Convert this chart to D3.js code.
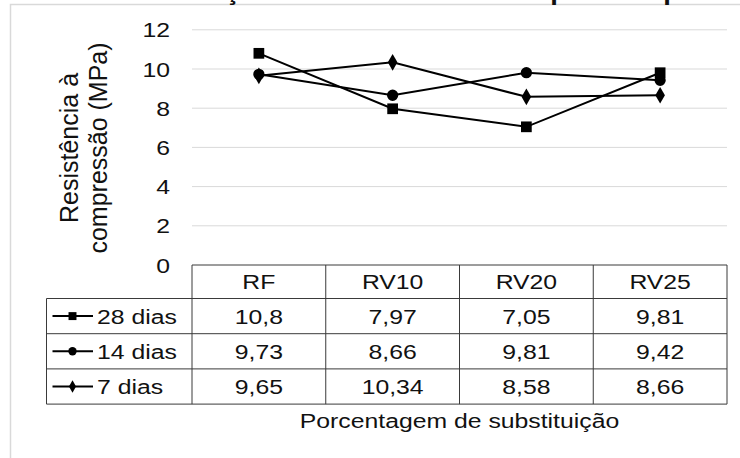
<!DOCTYPE html>
<html>
<head>
<meta charset="utf-8">
<script src="https://cdn.jsdelivr.net/npm/d3@7"></script>
<style>
  body { margin: 0; background: #fff; }
  text { font-family: "Liberation Sans", Arial, sans-serif; fill: #111; }
</style>
</head>
<body>
<svg id="chart" width="740" height="458"></svg>
<script>
// data
var categories = ["RF", "RV10", "RV20", "RV25"];
var seriesNames = ["28 dias", "14 dias", "7 dias"];
var dias28 = [10.8, 7.97, 7.05, 9.81];
var dias14 = [9.73, 8.66, 9.81, 9.42];
var dias7 = [9.65, 10.34, 8.58, 8.66];
var yTicks = [0, 2, 4, 6, 8, 10, 12];
var markers = ["square", "circle", "diamond"];

var seriesValues = [dias28, dias14, dias7];

var svg = d3.select("#chart");
var sx = 1.18; // text in the picture is a bit wider than tall

//chart frame
svg.append("rect")
    .attr("x", 10.5).attr("y", 4.5)
    .attr("width", 800).attr("height", 500)
    .attr("fill", "none")
    .attr("stroke", "#d9d9d9")
    .attr("stroke-width", 1.5);

//title, mostly above the visible area
svg.append("text")
    .attr("transform", "translate(150,0) scale(" + sx + ",1)")
    .attr("font-size", 23.3)
    .attr("font-weight", "bold")
    .text("Evolução da resistência à compressão por idade");

var x = d3.scaleBand().domain(categories).range([192, 727]);
var y = d3.scaleLinear().domain([0, 12]).range([265, 29.8]);

//gridlines
svg.append("g").selectAll("line")
    .data(yTicks.filter(function(d){ return d > 0; }))
    .enter().append("line")
    .attr("x1", 192).attr("x2", 727)
    .attr("y1", function(d){ return y(d); })
    .attr("y2", function(d){ return y(d); })
    .attr("stroke", "#d9d9d9")
    .attr("stroke-width", 1);

//y tick labels
svg.append("g").selectAll("text")
    .data(yTicks)
    .enter().append("text")
    .attr("transform", function(d){ return "translate(170," + y(d) + ") scale(" + sx + ",1)"; })
    .attr("text-anchor", "end")
    .attr("dy", "0.36em")
    .attr("font-size", 21)
    .text(function(d){ return d; });

//y title
var yt = svg.append("text")
    .attr("transform", "translate(78,148) rotate(-90)")
    .attr("text-anchor", "middle")
    .attr("font-size", 25);
yt.append("tspan").attr("x", 0).attr("y", 0).text("Resistência  à");
yt.append("tspan").attr("x", 0).attr("y", 29).text("compressão (MPa)");

//marker shapes
function symbolFor(m, size){
    var type = m == "square" ? d3.symbolSquare : (m == "circle" ? d3.symbolCircle : d3.symbolDiamond);
    return d3.symbol().type(type).size(size)();
}
var markSize = {"square": 115, "circle": 100, "diamond": 80};

//lines
var line = d3.line()
    .x(function(d, i){ return x(categories[i]) + x.bandwidth() / 2; })
    .y(function(d){ return y(d); });

seriesValues.forEach(function(vals, s){
    svg.append("path")
        .datum(vals)
        .attr("d", line)
        .attr("fill", "none")
        .attr("stroke", "#000")
        .attr("stroke-width", 2);
    svg.append("g").selectAll("path")
        .data(vals)
        .enter().append("path")
        .attr("transform", function(d, i){ return "translate(" + (x(categories[i]) + x.bandwidth() / 2) + "," + y(d) + ")"; })
        .attr("d", symbolFor(markers[s], markSize[markers[s]]))
        .attr("fill", "#000");
});

//data table
var headTop = 265, headH = 33.5, rowH = 35.2;
var tableLeft = 46.5, tableRight = 727;
var tbl = svg.append("g").attr("stroke", "#3a3a3a").attr("stroke-width", 1);
var rowTop = function(r){ return headTop + headH + r * rowH; };

tbl.append("line").attr("x1", 192).attr("x2", tableRight).attr("y1", headTop).attr("y2", headTop);
d3.range(seriesNames.length + 1).forEach(function(r){
    tbl.append("line").attr("x1", tableLeft).attr("x2", tableRight)
        .attr("y1", rowTop(r)).attr("y2", rowTop(r));
});
tbl.append("line").attr("x1", tableLeft).attr("x2", tableLeft)
    .attr("y1", rowTop(0)).attr("y2", rowTop(seriesNames.length));
categories.concat(["end"]).forEach(function(c, i){
    var xx = i < categories.length ? x(c) : tableRight;
    tbl.append("line").attr("x1", xx).attr("x2", xx)
        .attr("y1", headTop).attr("y2", rowTop(seriesNames.length));
});

//header labels
svg.append("g").selectAll("text")
    .data(categories)
    .enter().append("text")
    .attr("transform", function(d){ return "translate(" + (x(d) + x.bandwidth() / 2) + "," + (headTop + headH / 2) + ") scale(" + sx + ",1)"; })
    .attr("text-anchor", "middle")
    .attr("dy", "0.36em")
    .attr("font-size", 21)
    .text(function(d){ return d; });

//rows
seriesNames.forEach(function(name, s){
    var cy = rowTop(s) + rowH / 2;
    svg.append("line")
        .attr("x1", 52.5).attr("x2", 93)
        .attr("y1", cy).attr("y2", cy)
        .attr("stroke", "#000").attr("stroke-width", 2);
    svg.append("path")
        .attr("transform", "translate(72.5," + cy + ")")
        .attr("d", symbolFor(markers[s], markSize[markers[s]] * 0.55))
        .attr("fill", "#000");
    svg.append("text")
        .attr("transform", "translate(97," + cy + ") scale(" + sx + ",1)")
        .attr("dy", "0.36em")
        .attr("font-size", 21)
        .text(name);
    svg.append("g").selectAll("text")
        .data(seriesValues[s])
        .enter().append("text")
        .attr("transform", function(d, i){ return "translate(" + (x(categories[i]) + x.bandwidth() / 2) + "," + cy + ") scale(" + sx + ",1)"; })
        .attr("text-anchor", "middle")
        .attr("dy", "0.36em")
        .attr("font-size", 21)
        .text(function(d){ return String(d).replace(".", ","); });
});

//x title
svg.append("text")
    .attr("transform", "translate(459.5,428) scale(" + sx + ",1)")
    .attr("text-anchor", "middle")
    .attr("font-size", 21)
    .text("Porcentagem de substituição");
</script>
</body>
</html>
